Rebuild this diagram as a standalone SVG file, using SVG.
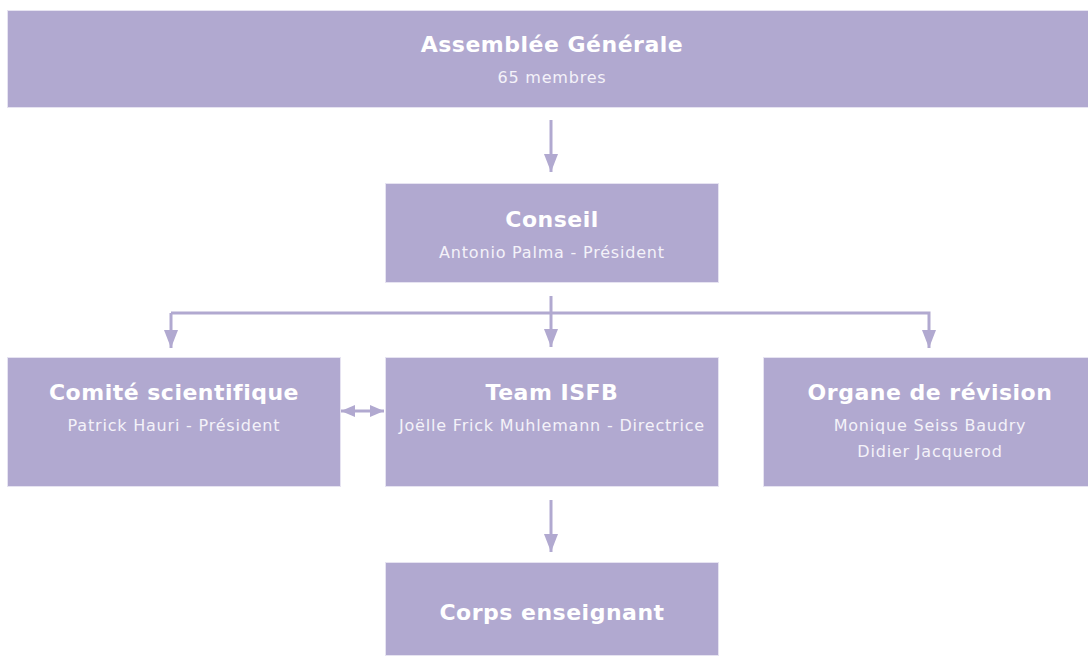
<svg xmlns="http://www.w3.org/2000/svg" width="1088" height="656" viewBox="0 0 1088 656">
<style>
.box{fill:#b1a9d0;stroke:#e6e3f1;stroke-width:1}
.t{font-family:"DejaVu Sans",Verdana,sans-serif;font-weight:bold;font-size:22px;letter-spacing:0.5px;fill:#ffffff;text-anchor:middle}
.s{font-family:"DejaVu Sans",Verdana,sans-serif;font-size:16px;letter-spacing:0.8px;fill:#f4f2f9;text-anchor:middle}
.ln{stroke:#b1a9d0;stroke-width:3;fill:none}
</style>
<defs>
<marker id="ah" viewBox="0 0 18 14" refX="18" refY="7" markerUnits="userSpaceOnUse" markerWidth="18" markerHeight="14" orient="auto">
<path d="M0,0 L18,7 L0,14 z" fill="#b1a9d0"/>
</marker>
<marker id="ah2" viewBox="0 0 14 12" refX="14" refY="6" markerUnits="userSpaceOnUse" markerWidth="14" markerHeight="12" orient="auto-start-reverse">
<path d="M0,0 L14,6 L0,12 z" fill="#b1a9d0"/>
</marker>
</defs>
<g id="connectors">
<line class="ln" x1="551" y1="120" x2="551" y2="172" marker-end="url(#ah)"/>
<line class="ln" x1="551" y1="296" x2="551" y2="347" marker-end="url(#ah)"/>
<path class="ln" d="M171,313 L929,313 L929,348" marker-end="url(#ah)"/>
<path class="ln" d="M171,313 L171,348" marker-end="url(#ah)"/>
<line class="ln" x1="341" y1="411" x2="384" y2="411" marker-start="url(#ah2)" marker-end="url(#ah2)"/>
<line class="ln" x1="551" y1="500" x2="551" y2="552" marker-end="url(#ah)"/>
</g>
<g id="assemblee">
<rect class="box" x="7.5" y="10.5" width="1082" height="97"/>
<text class="t" x="552" y="52">Assemblée Générale</text>
<text class="s" x="552" y="83">65 membres</text>
</g>
<g id="conseil">
<rect class="box" x="385.5" y="183.5" width="333" height="99"/>
<text class="t" x="552" y="227">Conseil</text>
<text class="s" x="552" y="258">Antonio Palma - Président</text>
</g>
<g id="comite">
<rect class="box" x="7.5" y="357.5" width="333" height="129"/>
<text class="t" x="174" y="400">Comité scientifique</text>
<text class="s" x="174" y="431">Patrick Hauri - Président</text>
</g>
<g id="team">
<rect class="box" x="385.5" y="357.5" width="333" height="129"/>
<text class="t" x="552" y="400">Team ISFB</text>
<text class="s" x="552" y="431">Joëlle Frick Muhlemann - Directrice</text>
</g>
<g id="organe">
<rect class="box" x="763.5" y="357.5" width="326" height="129"/>
<text class="t" x="930" y="400">Organe de révision</text>
<text class="s" x="930" y="431">Monique Seiss Baudry</text>
<text class="s" x="930" y="457">Didier Jacquerod</text>
</g>
<g id="corps">
<rect class="box" x="385.5" y="562.5" width="333" height="93"/>
<text class="t" x="552" y="620">Corps enseignant</text>
</g>
</svg>
